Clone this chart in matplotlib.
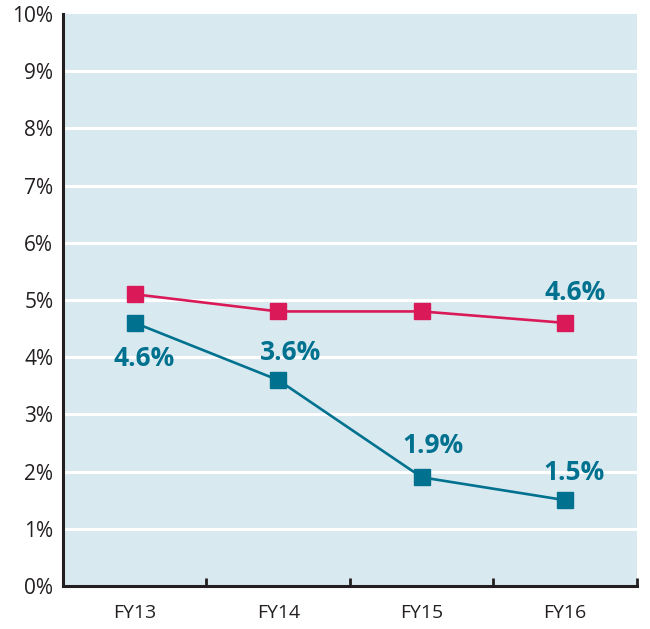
import numpy as np
import matplotlib.pyplot as plt

categories = ["FY13", "FY14", "FY15", "FY16"]
red_values = [5.1, 4.8, 4.8, 4.6]
blue_values = [4.6, 3.6, 1.9, 1.5]
yticks = [0, 1, 2, 3, 4, 5, 6, 7, 8, 9, 10]

# label offsets in points (dx, dy) for the labelled points
blue_offsets = [(7, -26), (9, 20), (8, 23), (6, 20)]
red_label_offset = (7, 22)

red = "#da1a58"
teal = "#00718f"
bg = "#d9e9f0"
dark = "#231f20"

plt.rcParams["font.family"] = ["Open Sans", "DejaVu Sans"]

fig = plt.figure(figsize=(6.5, 6.29), dpi=100)
ax = fig.add_axes([0.0969, 0.0684, 0.8831, 0.9093])
ax.set_facecolor(bg)

x = np.arange(len(categories))
ax.plot(x, red_values, color=red, lw=1.9, marker="s", ms=11.5, zorder=3)
ax.plot(x, blue_values, color=teal, lw=1.9, marker="s", ms=11.5, zorder=3)

for xi, v, (dx, dy) in zip(x, blue_values, blue_offsets):
    ax.annotate(f"{v:.1f}%", (xi, v), xytext=(dx, dy), textcoords="offset points",
                ha="center", va="center", fontsize=19, fontweight="bold", color=teal)
ax.annotate(f"{red_values[-1]:.1f}%", (x[-1], red_values[-1]), xytext=red_label_offset,
            textcoords="offset points", ha="center", va="center",
            fontsize=19, fontweight="bold", color=teal)

ax.set_xlim(-0.5, len(categories) - 0.5)
ax.set_ylim(0, 10)

ax.set_yticks(yticks)
ax.set_yticklabels([f"{t}%" for t in yticks], fontsize=15, color=dark)
ax.tick_params(axis="y", length=0, pad=7)
for t in yticks[1:-1]:
    ax.axhline(t, color="white", lw=2.2, zorder=1)

ax.set_xticks(np.arange(-0.5, len(categories)), labels=[""] * (len(categories) + 1))
ax.tick_params(axis="x", which="major", direction="in", length=6, width=2, color=dark)
ax.set_xticks(x, labels=categories, minor=True)
ax.tick_params(axis="x", which="minor", length=0, pad=13, labelsize=14, labelcolor=dark)

for s in ["top", "right"]:
    ax.spines[s].set_visible(False)
for s in ["left", "bottom"]:
    ax.spines[s].set_color(dark)
    ax.spines[s].set_linewidth(2.2)

fig.savefig("out.png", dpi=100)
